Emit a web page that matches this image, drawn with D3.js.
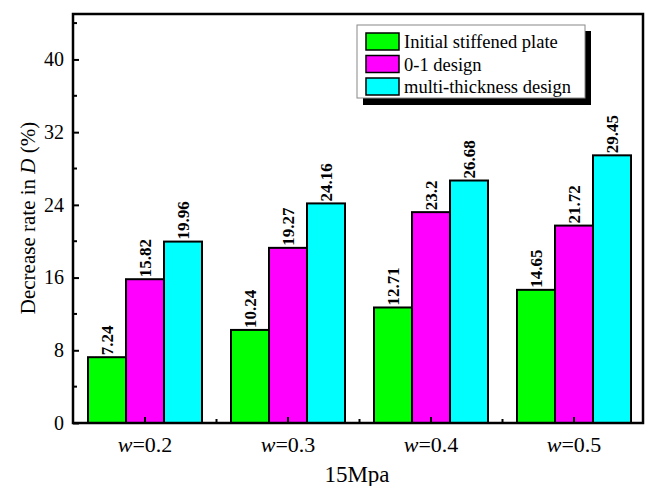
<!DOCTYPE html>
<html><head><meta charset="utf-8">
<script src="https://cdn.jsdelivr.net/npm/d3@7"></script>
<style>body{margin:0;background:#fff}text{font-family:"Liberation Serif","Times New Roman",serif}</style>
</head><body><svg id="c" width="646" height="486"></svg>
<script>
const categories = ["0.2", "0.3", "0.4", "0.5"];
const seriesNames = ["Initial stiffened plate", "0-1 design", "multi-thickness design"];
const initialPlate = [7.24, 10.24, 12.71, 14.65];
const design01 = [15.82, 19.27, 23.2, 21.72];
const multiThickness = [19.96, 24.16, 26.68, 29.45];
const colors = ["#00ff00", "#ff00ff", "#00ffff"];
const yTicks = [0, 8, 16, 24, 32, 40];
const series = [initialPlate, design01, multiThickness];

const svg = d3.select("#c");
const L = 73, R = 643, T = 14, B = 423;
const x = d3.scaleBand().domain(categories).range([73.5, 645.5]).padding(0);
const y = d3.scaleLinear().domain([0, 45]).range([B, T]);
const bw = 38;

// bars
series.forEach((vals, s) => {
  svg.append("g").selectAll("rect").data(vals).join("rect")
    .attr("x", (d, i) => x(categories[i]) + x.bandwidth() / 2 - 1.5 * bw + s * bw)
    .attr("y", d => y(d))
    .attr("width", bw)
    .attr("height", d => B - y(d))
    .attr("fill", colors[s])
    .attr("stroke", "#000").attr("stroke-width", 2);
  svg.append("g").selectAll("text").data(vals).join("text")
    .attr("transform", (d, i) => {
      const cx = x(categories[i]) + x.bandwidth() / 2 - bw + s * bw + 6;
      return `translate(${cx},${y(d) - 2}) rotate(-90)`;
    })
    .attr("font-size", 17).attr("font-weight", "bold")
    .text(d => d);
});

// frame
svg.append("rect").attr("x", L).attr("y", T).attr("width", R - L).attr("height", B - T)
  .attr("fill", "none").attr("stroke", "#000").attr("stroke-width", 2.5);

// y axis
const yAxis = d3.axisLeft(y).tickValues(yTicks).tickSize(-6).tickPadding(9);
const gy = svg.append("g").attr("transform", `translate(${L},0)`).call(yAxis);
gy.select(".domain").remove();
gy.selectAll(".tick line").attr("stroke-width", 2);
gy.selectAll(".tick text").attr("font-size", 20).attr("font-family", "Liberation Serif").attr("fill", "#000");
const minorY = d3.range(4, 45, 8);
svg.append("g").selectAll("line").data(minorY).join("line")
  .attr("x1", L).attr("x2", L + 4).attr("y1", d => y(d)).attr("y2", d => y(d))
  .attr("stroke", "#000").attr("stroke-width", 2);

// x axis ticks
svg.append("g").selectAll("line").data(categories).join("line")
  .attr("x1", d => x(d) + x.bandwidth() / 2).attr("x2", d => x(d) + x.bandwidth() / 2)
  .attr("y1", B).attr("y2", B - 6).attr("stroke", "#000").attr("stroke-width", 2);
svg.append("g").selectAll("line").data(categories.slice(1)).join("line")
  .attr("x1", d => x(d)).attr("x2", d => x(d))
  .attr("y1", B).attr("y2", B - 4).attr("stroke", "#000").attr("stroke-width", 2);
const xl = svg.append("g").selectAll("text").data(categories).join("text")
  .attr("x", d => x(d) + x.bandwidth() / 2).attr("y", 452)
  .attr("text-anchor", "middle").attr("font-size", 22);
xl.append("tspan").attr("font-style", "italic").text("w");
xl.append("tspan").text(d => "=" + d);

// axis titles
svg.append("text").attr("x", 357).attr("y", 482).attr("text-anchor", "middle")
  .attr("font-size", 23).text("15Mpa");
const yt = svg.append("text").attr("transform", "translate(35,218) rotate(-90)")
  .attr("text-anchor", "middle").attr("font-size", 21);
yt.append("tspan").text("Decrease rate in ");
yt.append("tspan").attr("font-style", "italic").text("D");
yt.append("tspan").text(" (%)");

// legend
const lg = svg.append("g");
lg.append("rect").attr("x", 363).attr("y", 31).attr("width", 228).attr("height", 74).attr("fill", "#000");
lg.append("rect").attr("x", 357).attr("y", 25).attr("width", 228).attr("height", 73)
  .attr("fill", "#fff").attr("stroke", "#888").attr("stroke-width", 1);
seriesNames.forEach((n, i) => {
  lg.append("rect").attr("x", 366).attr("y", 33 + i * 22.5).attr("width", 33).attr("height", 17)
    .attr("fill", colors[i]).attr("stroke", "#000").attr("stroke-width", 1.5);
  lg.append("text").attr("x", 404).attr("y", 48 + i * 22.5).attr("font-size", 18.5).text(n);
});
</script></body></html>
